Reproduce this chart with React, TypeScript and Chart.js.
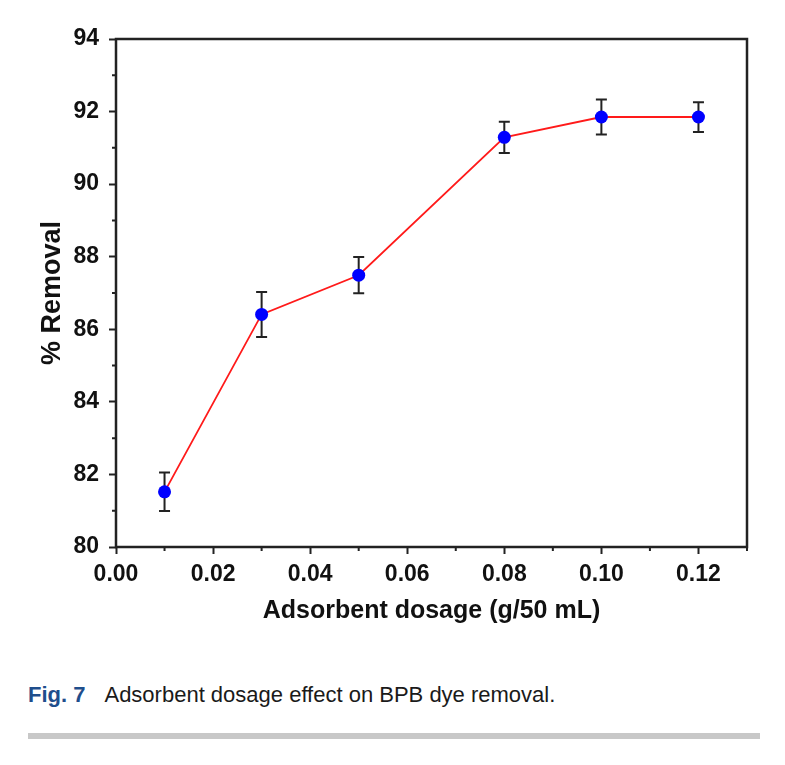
import React, { useEffect, useRef } from 'react';
import { Chart, registerables } from 'chart.js';

Chart.register(...registerables);

// ---- data ----
const dosage = [0.01, 0.03, 0.05, 0.08, 0.1, 0.12];
const removal = [81.52, 86.41, 87.49, 91.29, 91.85, 91.85];
const removalErr = [0.53, 0.62, 0.5, 0.43, 0.48, 0.41];
const xTicks = [0, 0.02, 0.04, 0.06, 0.08, 0.1, 0.12];
const xMinorTicks = [0.01, 0.03, 0.05, 0.07, 0.09, 0.11, 0.13];
const yTicks = [80, 82, 84, 86, 88, 90, 92, 94];
const yMinorTicks = [81, 83, 85, 87, 89, 91, 93];

const AXIS_COLOR = '#222';
const FONT = "'Liberation Sans', Arial, Helvetica, sans-serif";

const framePlugin = {
  id: 'frameAndErrors',
  beforeDatasetsDraw(chart: any) {
    const { ctx, scales } = chart;
    const x = scales.x;
    const y = scales.y;
    ctx.save();
    ctx.strokeStyle = '#222';
    ctx.lineWidth = 2;
    const cap = 5.5;
    dosage.forEach((d, i) => {
      const px = x.getPixelForValue(d);
      const top = y.getPixelForValue(removal[i] + removalErr[i]);
      const bot = y.getPixelForValue(removal[i] - removalErr[i]);
      ctx.beginPath();
      ctx.moveTo(px, top);
      ctx.lineTo(px, bot);
      ctx.moveTo(px - cap, top);
      ctx.lineTo(px + cap, top);
      ctx.moveTo(px - cap, bot);
      ctx.lineTo(px + cap, bot);
      ctx.stroke();
    });
    ctx.restore();
  },
  afterDraw(chart: any) {
    const { ctx, chartArea, scales } = chart;
    const { left, right, top, bottom } = chartArea;
    ctx.save();
    ctx.strokeStyle = AXIS_COLOR;
    ctx.lineWidth = 2.5;
    ctx.strokeRect(left, top, right - left, bottom - top);
    ctx.lineWidth = 2;
    ctx.beginPath();
    xMinorTicks.forEach((v) => {
      const px = scales.x.getPixelForValue(v);
      ctx.moveTo(px, bottom);
      ctx.lineTo(px, bottom + 4);
    });
    yMinorTicks.forEach((v) => {
      const py = scales.y.getPixelForValue(v);
      ctx.moveTo(left, py);
      ctx.lineTo(left - 4, py);
    });
    ctx.stroke();
    ctx.restore();
  },
};

export default function App() {
  const canvasRef = useRef<HTMLCanvasElement | null>(null);

  useEffect(() => {
    if (!canvasRef.current) return;
    const chart = new Chart(canvasRef.current, {
      type: 'line',
      data: {
        datasets: [
          {
            label: '% Removal',
            data: dosage.map((d, i) => ({ x: d, y: removal[i] })),
            borderColor: '#ff1a1a',
            borderWidth: 1.8,
            pointBackgroundColor: '#0000ff',
            pointBorderColor: '#0000ff',
            pointRadius: 6.5,
            pointBorderWidth: 0,
            tension: 0,
          },
        ],
      },
      options: {
        animation: false,
        responsive: false,
        devicePixelRatio: 1,
        layout: { padding: { left: 0, top: 39, right: 38, bottom: 0 } },
        plugins: {
          legend: { display: false },
          tooltip: { enabled: false },
        },
        scales: {
          x: {
            type: 'linear',
            min: 0,
            max: 0.13,
            afterBuildTicks: (scale: any) => {
              scale.ticks = xTicks.map((v) => ({ value: v }));
            },
            afterFit: (scale: any) => {
              scale.height = 93;
            },
            grid: {
              drawOnChartArea: false,
              drawTicks: true,
              tickLength: 7,
              tickWidth: 2,
              tickColor: AXIS_COLOR,
            },
            border: { display: false },
            ticks: {
              padding: 7,
              color: '#111',
              font: { family: FONT, weight: 'bold', size: 23 },
              maxRotation: 0,
              callback: (v: any) => Number(v).toFixed(2),
            },
            title: {
              display: true,
              text: 'Adsorbent dosage (g/50 mL)',
              color: '#111',
              font: { family: FONT, weight: 'bold', size: 25 },
              padding: { top: 0, bottom: 14 },
            },
          },
          y: {
            type: 'linear',
            min: 80,
            max: 94,
            afterBuildTicks: (scale: any) => {
              scale.ticks = yTicks.map((v) => ({ value: v }));
            },
            afterFit: (scale: any) => {
              scale.width = 116;
            },
            grid: {
              drawOnChartArea: false,
              drawTicks: true,
              tickLength: 7,
              tickWidth: 2,
              tickColor: AXIS_COLOR,
            },
            border: { display: false },
            ticks: {
              padding: 10,
              color: '#111',
              font: { family: FONT, weight: 'bold', size: 23 },
            },
            title: {
              display: true,
              text: '% Removal',
              color: '#111',
              font: { family: FONT, weight: 'bold', size: 27 },
              padding: { top: 36, bottom: 0 },
            },
          },
        },
      },
      plugins: [framePlugin],
    });
    return () => chart.destroy();
  }, []);

  return (
    <div
      style={{
        position: 'absolute',
        left: 0,
        top: 0,
        width: 785,
        height: 765,
        background: '#fff',
      }}
    >
      <canvas
        ref={canvasRef}
        width={785}
        height={640}
        style={{ display: 'block', width: 785, height: 640 }}
      />
      <div
        style={{
          position: 'absolute',
          left: 28,
          top: 684,
          fontFamily: FONT,
          fontSize: 22,
          lineHeight: '22px',
          color: '#1a1a1a',
          whiteSpace: 'nowrap',
        }}
      >
        <span style={{ fontWeight: 'bold', color: '#1f4e8c', marginRight: 19 }}>Fig. 7</span>
        <span>Adsorbent dosage effect on BPB dye removal.</span>
      </div>
      <div
        style={{
          position: 'absolute',
          left: 28,
          top: 733,
          width: 732,
          height: 6,
          background: '#c8c8c8',
        }}
      />
    </div>
  );
}
